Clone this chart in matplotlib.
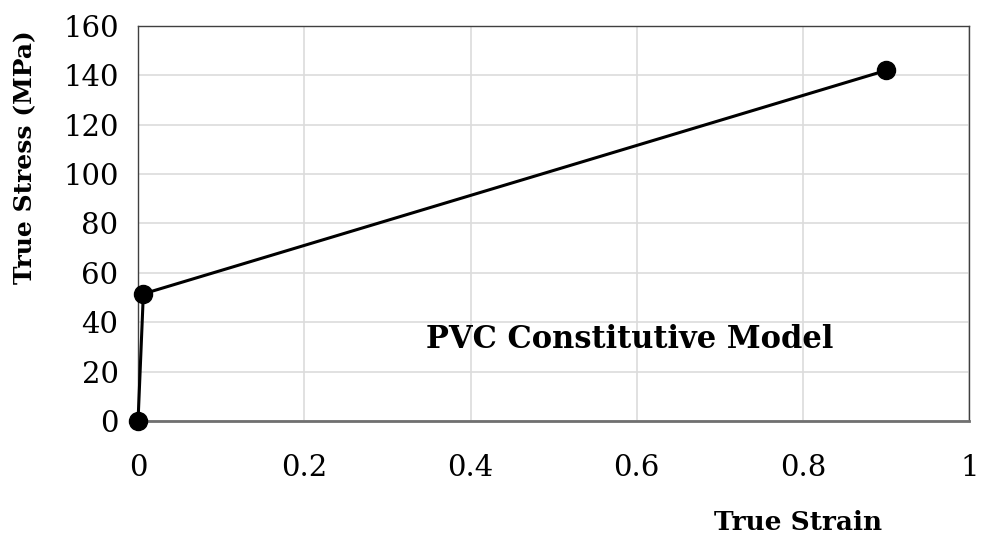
import matplotlib
matplotlib.use("Agg")
import matplotlib.pyplot as plt

# PVC constitutive model points
strain = [0.0, 0.0064, 0.90]
stress = [0.0, 51.5, 142.0]

x_ticks = [0, 0.2, 0.4, 0.6, 0.8, 1]
x_tick_labels = ["0", "0.2", "0.4", "0.6", "0.8", "1"]
y_ticks = [0, 20, 40, 60, 80, 100, 120, 140, 160]

plt.rcParams['font.family'] = ['DejaVu Serif']

fig = plt.figure(figsize=(9.86, 5.46), dpi=100)
ax = fig.add_axes([0.14, 0.229, 0.843, 0.7234])

ax.plot(strain, stress, color='black', lw=2.2, marker='o', markersize=13, zorder=3, clip_on=False)

ax.set_xlim(0, 1)
ax.set_ylim(0, 160)
ax.set_xticks(x_ticks)
ax.set_xticklabels(x_tick_labels)
ax.set_yticks(y_ticks)
ax.tick_params(axis='both', length=0, labelsize=21)
ax.tick_params(axis='x', pad=24)
ax.tick_params(axis='y', pad=14)
ax.grid(True, color='#dcdcdc', lw=1.2)
ax.set_axisbelow(True)
for side in ['top', 'right', 'left']:
    ax.spines[side].set_color('#404040')
    ax.spines[side].set_linewidth(1.0)
ax.spines['bottom'].set_color('#707070')
ax.spines['bottom'].set_linewidth(2.0)

ax.text(0.591, 32.8, "PVC Constitutive Model", fontsize=22, fontweight='bold', ha='center', va='center')
fig.text(798 / 986, 1 - 522 / 546, "True Strain", fontsize=19, fontweight='bold', ha='center', va='center')
fig.text(25 / 986, 1 - 157 / 546, "True Stress (MPa)", fontsize=18, fontweight='bold', ha='center', va='center', rotation=90)

fig.savefig("out.png", dpi=100)
